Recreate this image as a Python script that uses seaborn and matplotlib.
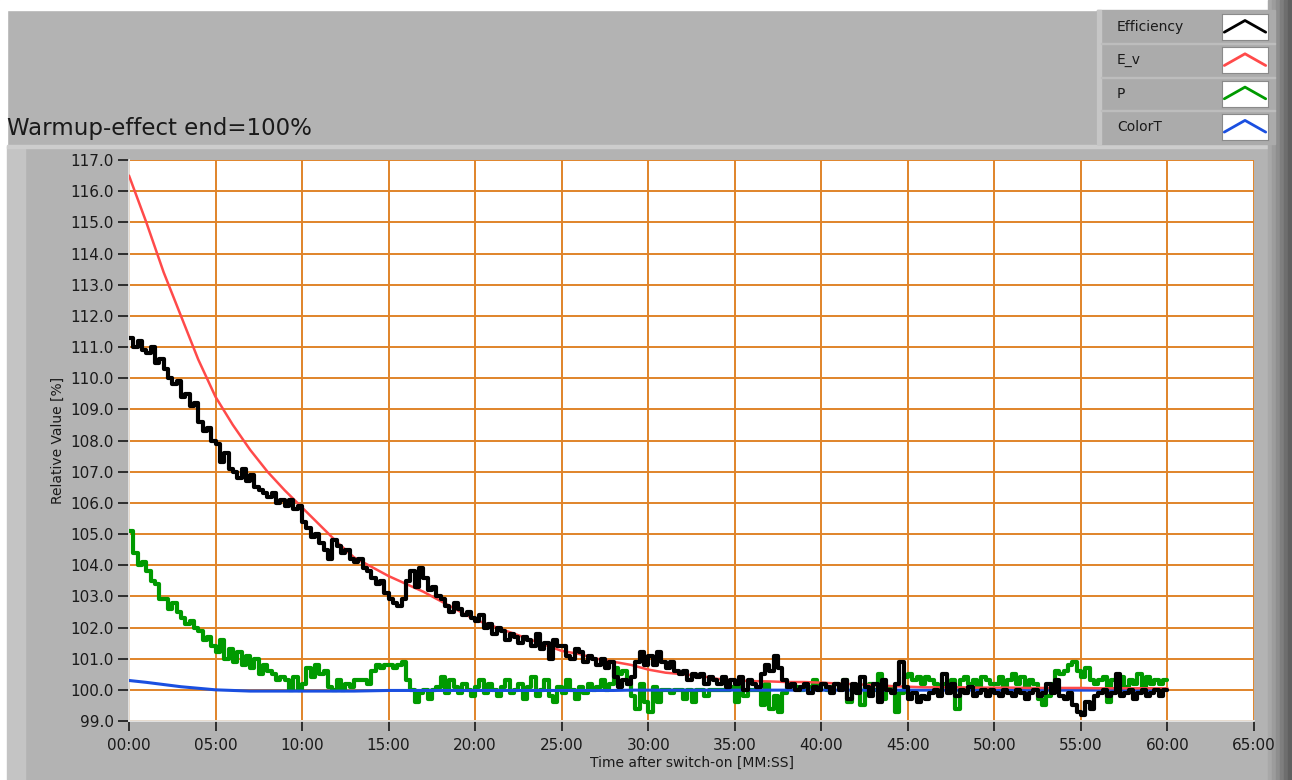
import numpy as np
import pandas as pd
import matplotlib
matplotlib.use("Agg")
import matplotlib.pyplot as plt
import seaborn as sns
from matplotlib.patches import Rectangle

# --- data ---
# Efficiency (black), 4 samples per minute, 0..60 min
efficiency = [
    111.3, 111.0, 111.2, 110.9, 110.8, 111.0, 110.5, 110.6, 110.3, 110.0, 109.8, 109.9, 109.4, 109.5, 109.1, 109.2, 108.6, 108.3, 108.4, 108.0,
    107.9, 107.3, 107.6, 107.1, 107.0, 106.8, 107.1, 106.7, 106.9, 106.5, 106.4, 106.3, 106.2, 106.3, 106.0, 106.1, 105.9, 106.1, 105.8, 105.9,
    105.4, 105.2, 104.9, 105.0, 104.7, 104.5, 104.2, 104.8, 104.6, 104.4, 104.5, 104.2, 104.1, 104.2, 103.9, 103.8, 103.6, 103.4, 103.5, 103.1,
    102.9, 102.8, 102.7, 102.9, 103.5, 103.8, 103.3, 103.9, 103.6, 103.2, 103.3, 103.0, 102.9, 102.7, 102.5, 102.8, 102.6, 102.4, 102.5, 102.3,
    102.2, 102.4, 102.0, 102.1, 101.8, 102.0, 101.9, 101.6, 101.8, 101.7, 101.5, 101.7, 101.6, 101.4, 101.8, 101.3, 101.5, 101.0, 101.6, 101.4,
    101.4, 101.1, 101.0, 101.3, 101.2, 100.9, 101.1, 101.0, 100.8, 101.0, 100.7, 100.9, 100.4, 100.1, 100.3, 100.2, 100.4, 100.9, 101.2, 100.8,
    101.1, 100.8, 101.2, 100.9, 100.7, 100.9, 100.6, 100.5, 100.6, 100.3, 100.5, 100.4, 100.5, 100.2, 100.4, 100.3, 100.2, 100.4, 100.1, 100.3,
    100.2, 100.4, 100.0, 100.3, 100.2, 100.1, 100.5, 100.8, 100.6, 101.1, 100.7, 100.3, 100.1, 100.2, 100.0, 100.1, 100.2, 99.9, 100.1, 100.0,
    100.2, 100.1, 99.9, 100.2, 100.0, 100.3, 99.7, 100.2, 99.9, 100.4, 100.1, 99.8, 100.2, 99.6, 100.3, 100.0, 99.9, 100.2, 100.9, 100.1,
    99.7, 99.9, 99.6, 99.8, 99.7, 99.9, 100.0, 99.8, 100.5, 99.9, 100.2, 99.8, 100.0, 99.9, 100.1, 99.8, 99.9, 100.0, 99.8, 100.0,
    99.9, 99.8, 100.0, 99.9, 99.8, 100.0, 99.9, 99.7, 99.9, 100.0, 99.8, 99.9, 100.2, 99.9, 100.3, 99.8, 99.7, 99.9, 99.5, 99.3,
    99.2, 99.6, 99.4, 99.8, 99.9, 100.0, 99.8, 99.9, 100.5, 99.8, 99.9, 100.0, 99.7, 99.9, 100.0, 99.8, 99.9, 100.0, 99.8, 100.0,
    100.0,
]

# P (green), 4 samples per minute
power = [
    105.1, 104.4, 104.0, 104.1, 103.8, 103.5, 103.4, 102.9, 102.9, 102.6, 102.8, 102.5, 102.3, 102.1, 102.2, 102.0, 101.9, 101.6, 101.7, 101.4,
    101.2, 101.6, 101.0, 101.3, 100.9, 101.2, 100.8, 101.1, 100.7, 101.0, 100.5, 100.8, 100.6, 100.5, 100.3, 100.4, 100.3, 100.0, 100.4, 100.0,
    100.2, 100.7, 100.4, 100.8, 100.5, 100.6, 100.1, 100.0, 100.3, 100.0, 100.2, 100.1, 100.3, 100.3, 100.3, 100.2, 100.6, 100.8, 100.7, 100.8,
    100.8, 100.7, 100.8, 100.9, 100.3, 100.0, 99.6, 99.9, 100.0, 99.7, 100.0, 100.1, 100.4, 99.9, 100.3, 100.1, 99.9, 100.2, 100.0, 99.8,
    100.1, 100.3, 99.9, 100.2, 100.0, 99.8, 100.1, 100.3, 99.9, 100.0, 100.2, 99.7, 100.1, 100.4, 99.8, 100.0, 100.3, 99.8, 99.6, 100.1,
    99.9, 100.3, 100.0, 99.7, 100.1, 99.9, 100.2, 100.0, 100.1, 100.3, 100.0, 100.2, 100.7, 100.5, 100.6, 100.2, 99.8, 99.4, 100.2, 99.6,
    99.3, 100.1, 99.6, 100.0, 100.0, 99.9, 100.0, 100.0, 99.7, 100.0, 99.6, 100.0, 100.0, 99.8, 100.0, 100.0, 100.0, 100.0, 100.0, 100.1,
    99.6, 100.3, 99.8, 100.0, 100.0, 100.0, 99.5, 100.2, 99.4, 99.8, 99.3, 99.9, 100.1, 100.2, 100.1, 100.0, 100.2, 100.1, 100.3, 100.1,
    100.2, 100.0, 100.1, 100.2, 100.1, 100.3, 99.6, 100.0, 100.1, 99.5, 100.1, 100.2, 100.0, 100.5, 99.7, 100.1, 100.0, 99.3, 99.9, 100.4,
    100.5, 100.3, 100.4, 100.2, 100.4, 100.3, 100.2, 100.0, 100.2, 100.1, 100.3, 99.4, 100.3, 100.4, 100.2, 100.3, 100.1, 100.4, 100.3, 100.2,
    100.2, 100.4, 100.1, 100.3, 100.5, 100.2, 100.4, 100.1, 100.3, 100.2, 99.7, 99.5, 99.8, 100.2, 100.6, 100.5, 100.6, 100.8, 100.9, 100.6,
    100.4, 100.7, 100.3, 100.2, 100.3, 100.4, 99.6, 100.3, 100.2, 100.4, 100.1, 100.3, 100.2, 100.5, 100.1, 100.4, 100.2, 100.3, 100.2, 100.3,
    100.3,
]

# E_v (red) and ColorT (blue), one sample per minute
e_v = [
    116.5, 115.0, 113.4, 112.0, 110.6, 109.4, 108.5, 107.7, 107.0, 106.4,
    105.85, 105.3, 104.75, 104.25, 103.95, 103.65, 103.4, 103.15, 102.85, 102.55,
    102.25, 102.05, 101.85, 101.65, 101.45, 101.25, 101.15, 101.0, 100.9, 100.8,
    100.65, 100.55, 100.5, 100.45, 100.35, 100.3, 100.28, 100.27, 100.25, 100.25,
    100.23, 100.2, 100.18, 100.15, 100.12, 100.1, 100.08, 100.08, 100.08, 100.07,
    100.07, 100.07, 100.06, 100.06, 100.06, 100.06, 100.05, 100.05, 100.05, 100.05,
    100.05,
]
color_t = [
    100.30, 100.24, 100.17, 100.10, 100.05, 100.00, 99.98, 99.96, 99.96, 99.96,
    99.96, 99.96, 99.96, 99.96, 99.97, 99.98, 99.98, 99.98, 99.98, 99.98,
    99.98, 99.98, 99.98, 99.98, 99.98, 99.98, 99.98, 99.98, 99.98, 99.99,
    99.99, 99.99, 99.99, 99.99, 99.99, 99.99, 99.99, 99.99, 99.99, 99.99,
    99.99, 99.99, 99.99, 99.99, 99.99, 99.99, 99.99, 99.99, 99.99, 99.99,
    99.99, 99.99, 99.99, 99.99, 99.99, 99.99, 99.99, 99.99, 99.99, 99.99,
    99.99,
]

t_fine = np.arange(len(efficiency)) * 0.25
t_min = np.arange(len(e_v)) * 1.0

series_names = ["Efficiency", "E_v", "P", "ColorT"]
series_colors = ["#000000", "#ff4a4a", "#009a00", "#1a4fe0"]

xtick_vals = list(range(0, 70, 5))
xtick_labels = ["%02d:00" % m for m in xtick_vals]
ytick_vals = list(range(99, 118))
ytick_labels = ["%.1f" % v for v in ytick_vals]

# --- figure ---
sns.set_theme(style="white", rc={"xtick.bottom": True, "ytick.left": True,
                                 "xtick.major.size": 7, "ytick.major.size": 8})
plt.rcParams['font.family'] = ['DejaVu Sans']

W, H = 1292, 780
fig = plt.figure(figsize=(W / 100, H / 100), dpi=100)
fig.patch.set_facecolor("#b3b3b3")

def fx(px):
    return px / W

def fy(py):
    return 1 - py / H

def panel(x0, y0, w, h, color, z=-5):
    # rectangle in pixel coordinates (top-left origin)
    fig.patches.append(Rectangle((fx(x0), fy(y0 + h)), fx(w), h / H,
                                 transform=fig.transFigure, color=color, zorder=z))

# frame decorations
panel(0, 0, W, 10, "white")
panel(0, 0, 7, H, "white")
panel(7, 146, 18, H - 146, "#c4c4c4")
panel(7, 145, 1262, 3, "#cdcdcd")
shades = ["#a8a8a8", "#9c9c9c", "#8e8e8e", "#7e7e7e", "#6e6e6e", "#606060"]
for i, c in enumerate(shades):
    panel(1268 + i * 4, 0, 4, H, c)

ax = fig.add_axes([fx(129), fy(721), fx(1254 - 129), (721 - 160) / H])
ax.set_zorder(2)
ax.set_facecolor("white")

sns.lineplot(x=t_fine, y=power, ax=ax, color=series_colors[2], lw=3.0, drawstyle="steps-post", zorder=3)
sns.lineplot(x=t_min, y=color_t, ax=ax, color=series_colors[3], lw=2.2, zorder=4)
sns.lineplot(x=t_min, y=e_v, ax=ax, color=series_colors[1], lw=1.8, zorder=5)
sns.lineplot(x=t_fine, y=efficiency, ax=ax, color=series_colors[0], lw=3.0, drawstyle="steps-post", zorder=6)

ax.set_xlim(0, 65)
ax.set_ylim(99, 117)
ax.set_xticks(xtick_vals)
ax.set_xticklabels(xtick_labels, fontsize=11)
ax.set_yticks(ytick_vals)
ax.set_yticklabels(ytick_labels, fontsize=11)
ax.grid(True, color="#e0842a", lw=1.4, zorder=1)
ax.set_axisbelow(True)
ax.tick_params(axis="x", which="major", direction="out", bottom=True, length=7, width=1.3,
               color="#222222", labelcolor="#1a1a1a", pad=5)
ax.tick_params(axis="y", which="major", direction="out", left=True, length=8, width=1.3,
               color="#222222", labelcolor="#1a1a1a", pad=3)
for sp in ax.spines.values():
    sp.set_visible(False)
ax.spines["bottom"].set_visible(True)
ax.spines["bottom"].set_color("#e8e8e8")
ax.spines["left"].set_visible(True)
ax.spines["left"].set_color("#e8e8e8")

ax.set_xlabel("Time after switch-on [MM:SS]", fontsize=10, labelpad=2, color="#1a1a1a")
ax.set_ylabel("Relative Value [%]", fontsize=10, labelpad=4, color="#1a1a1a")

fig.text(fx(7), fy(128), "Warmup-effect end=100%", fontsize=16.5, color="#1a1a1a",
         ha="left", va="center")

# legend panel
panel(1097, 10, 178, 134, "#ababab", z=-1)
panel(1097, 10, 4, 134, "#c6c6c6", z=-1)
for i, (name, col) in enumerate(zip(series_names, series_colors)):
    yc = 27 + i * 33.3
    if i > 0:
        panel(1101, yc - 17, 174, 1, "#bdbdbd", z=-1)
    fig.text(fx(1117), fy(yc), name, fontsize=10, color="#1a1a1a", ha="left", va="center", zorder=3)
    sw = fig.add_axes([fx(1222), fy(yc + 13), fx(46), 26 / H])
    sw.set_zorder(5)
    sw.set_facecolor("white")
    sw.plot([0.05, 0.5, 0.95], [0.3, 0.75, 0.3], color=col, lw=2)
    sw.set_xlim(0, 1)
    sw.set_ylim(0, 1)
    sw.set_xticks([])
    sw.set_yticks([])
    for sp in sw.spines.values():
        sp.set_color("#8a8a8a")
        sp.set_linewidth(0.8)

fig.savefig("out.png", dpi=100, facecolor=fig.get_facecolor())
